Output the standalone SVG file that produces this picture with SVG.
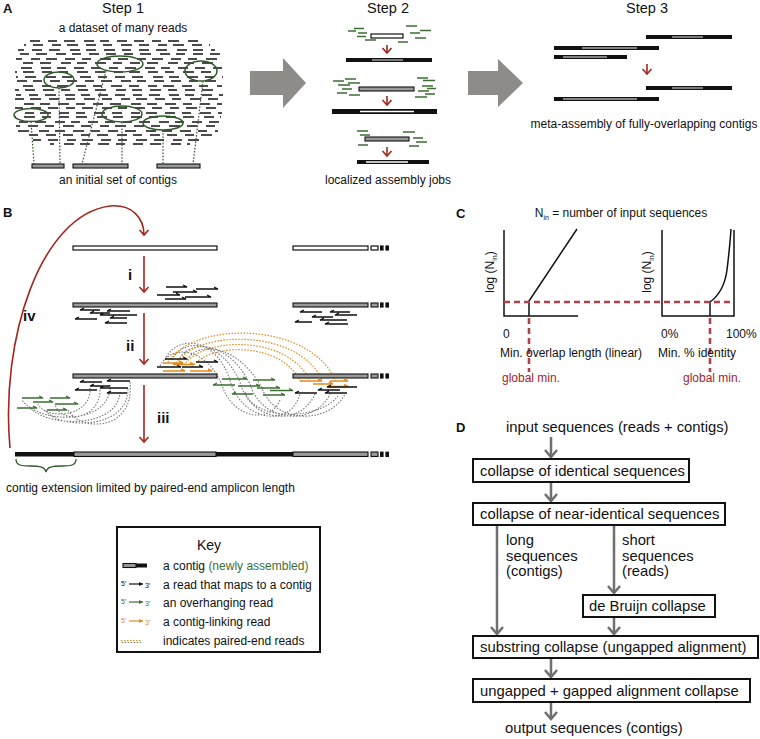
<svg xmlns="http://www.w3.org/2000/svg" width="760" height="739" viewBox="0 0 760 739">
<style>
text{font-family:"Liberation Sans",Arial,sans-serif;fill:#111}
.t12{font-size:12px}
.t15{font-size:14.8px}
.lb{font-size:13px;font-weight:bold}
.rn{font-size:15px;font-weight:bold}
.rd{stroke:#111;stroke-width:1.6;fill:none}
.da{stroke-dasharray:10 8 9 7 11 9 10 6 9 8 10 7}
.db{stroke-dasharray:11 7 10 9 9 6 11 8 10 7 9 9}
.dc{stroke-dasharray:9 8 10 7 11 10 10 6 10 8 11 7}
.ell{fill:none;stroke:#2f5a2a;stroke-width:1.5}
.gdot{stroke:#2f5a2a;stroke-width:1.2;stroke-dasharray:1.6 1.6;fill:none}
.ctg{fill:#999;stroke:#111;stroke-width:1.1}
.wct{fill:#fff;stroke:#111;stroke-width:1.2}
.blk{fill:#111}
.gin{stroke:#aaa;stroke-width:1.4}
.win{stroke:#fff;stroke-width:1.4}
.gr{stroke:#3d6e34;stroke-width:1.6;fill:none}
.red{stroke:#a3261e;stroke-width:1.6;fill:none}
.hb{stroke:#111;stroke-width:1.3;fill:none}
.hg{stroke:#3d6e34;stroke-width:1.3;fill:none}
.ho{stroke:#e08a1e;stroke-width:1.4;fill:none}
.pg{stroke:#777;stroke-width:1.1;stroke-dasharray:1.5 1.5;fill:none}
.po{stroke:#e08a1e;stroke-width:1.2;stroke-dasharray:1.5 1.5;fill:none}
.ax{stroke:#111;stroke-width:1.5;fill:none}
.rdash{stroke:#b0414b;stroke-width:2.6;stroke-dasharray:6 4;fill:none}
.box{fill:#fff;stroke:#111;stroke-width:2}
.ga{stroke:#6f6f6f;stroke-width:2.5;fill:none}
</style>
<defs>
<marker id="rh" markerUnits="userSpaceOnUse" viewBox="-7 -7 14 14" markerWidth="14" markerHeight="14" refX="0" refY="0" orient="auto" overflow="visible">
<path d="M-5,-4.5L0,0L-5,4.5" fill="none" stroke="#a3261e" stroke-width="1.6"/>
</marker>
<marker id="gh" markerUnits="userSpaceOnUse" viewBox="-9 -9 18 18" markerWidth="18" markerHeight="18" refX="0" refY="0" orient="auto" overflow="visible">
<path d="M-7,-6L0,0L-7,6" fill="none" stroke="#6f6f6f" stroke-width="2.5"/>
</marker>
<marker id="kh" markerUnits="userSpaceOnUse" viewBox="-4 -4 8 8" markerWidth="8" markerHeight="8" refX="0" refY="0" orient="auto" overflow="visible">
<path d="M-4,-2L0,0L-4,2Z" fill="context-stroke"/>
</marker>
</defs>
<rect width="760" height="739" fill="#fff"/>

<!-- Panel labels -->
<text class="lb" x="3" y="13">A</text>
<text class="lb" x="3" y="217">B</text>
<text class="lb" x="456" y="218">C</text>
<text class="lb" x="456" y="432">D</text>

<!-- Step 1 -->
<g id="step1">
<text x="123" y="13" font-size="14.5" text-anchor="middle">Step 1</text>
<text class="t12" x="123" y="32" text-anchor="middle">a dataset of many reads</text>
<g class="rd">
<line x1="30" y1="41" x2="200" y2="41" class="da"/>
<line x1="24" y1="45" x2="210" y2="45" class="db" stroke-dashoffset="9"/>
<line x1="18" y1="50" x2="215" y2="50" class="dc" stroke-dashoffset="3"/>
<line x1="15" y1="54" x2="220" y2="54" class="da" stroke-dashoffset="13"/>
<line x1="16" y1="59" x2="222" y2="59" class="db" stroke-dashoffset="22"/>
<line x1="15" y1="63" x2="218" y2="63" class="dc" stroke-dashoffset="9"/>
<line x1="17" y1="68" x2="222" y2="68" class="da" stroke-dashoffset="30"/>
<line x1="15" y1="72" x2="220" y2="72" class="db" stroke-dashoffset="44"/>
<line x1="16" y1="77" x2="223" y2="77" class="dc" stroke-dashoffset="25"/>
<line x1="15" y1="81" x2="219" y2="81" class="da" stroke-dashoffset="52"/>
<line x1="18" y1="86" x2="222" y2="86" class="db" stroke-dashoffset="13"/>
<line x1="15" y1="90" x2="221" y2="90" class="dc" stroke-dashoffset="61"/>
<line x1="16" y1="95" x2="223" y2="95" class="da" stroke-dashoffset="5"/>
<line x1="15" y1="99" x2="220" y2="99" class="db" stroke-dashoffset="37"/>
<line x1="17" y1="104" x2="222" y2="104" class="dc" stroke-dashoffset="48"/>
<line x1="15" y1="108" x2="219" y2="108" class="da" stroke-dashoffset="71"/>
<line x1="16" y1="113" x2="222" y2="113" class="db" stroke-dashoffset="28"/>
<line x1="15" y1="117" x2="221" y2="117" class="dc" stroke-dashoffset="80"/>
<line x1="18" y1="122" x2="220" y2="122" class="da" stroke-dashoffset="17"/>
<line x1="16" y1="126" x2="218" y2="126" class="db" stroke-dashoffset="59"/>
<line x1="18" y1="131" x2="218" y2="131" class="dc" stroke-dashoffset="34"/>
<line x1="25" y1="135" x2="214" y2="135" class="da" stroke-dashoffset="66"/>
<line x1="33" y1="140" x2="205" y2="140" class="db" stroke-dashoffset="3"/>
<line x1="50" y1="144" x2="190" y2="144" class="dc" stroke-dashoffset="41"/>
</g>
<ellipse class="ell" cx="59" cy="80" rx="15" ry="8"/>
<ellipse class="ell" cx="120" cy="64" rx="23" ry="8"/>
<ellipse class="ell" cx="201" cy="71" rx="16" ry="10"/>
<ellipse class="ell" cx="31" cy="115" rx="17" ry="6.5"/>
<ellipse class="ell" cx="122" cy="114" rx="20" ry="8"/>
<ellipse class="ell" cx="163" cy="123" rx="20" ry="7"/>
<path class="gdot" d="M31,121.5L34,164M59,88L60,164M106,71L82,164M122,122L122,164M163,130L163,164M203,81L193,164"/>
<rect class="ctg" x="32" y="164" width="32" height="4"/>
<rect class="ctg" x="73" y="164" width="55" height="4"/>
<rect class="ctg" x="157" y="164" width="43" height="4"/>
<text class="t12" x="118" y="184" text-anchor="middle">an initial set of contigs</text>
</g>

<g id="bigarrows" fill="#8e8c89">
<polygon points="250,71 283,71 283,58 306,83 283,108 283,95 250,95"/>
<polygon points="468,71 498,71 498,59 523,83 498,107 498,95 468,95"/>
</g>

<!-- Step 2 -->
<g id="step2">
<text x="388" y="13" font-size="14.5" text-anchor="middle">Step 2</text>
<path class="gr" d="M348,31h8M354,28.5h10M358,33h9M357,36.5h9M365,40h11M406,26h11M410,33h10M420,30.5h11M415,38h11M398,42h10"/>
<rect class="wct" x="371" y="34" width="32" height="4"/>
<line class="red" x1="387" y1="45" x2="387" y2="53" marker-end="url(#rh)"/>
<rect class="blk" x="346" y="58" width="86" height="4"/>
<line class="gin" x1="372" y1="60" x2="403" y2="60"/>
<path class="gr" d="M333,81h11M345,79h11M338,85h12M348,83h12M342,89h10M337,93h10M349,95h11M417,78h11M423,80.5h12M422,86h11M427,88.5h9M418,91h11M415,97h12M425,94h10"/>
<rect class="ctg" x="359" y="87" width="55" height="4"/>
<line class="red" x1="387" y1="96" x2="387" y2="105" marker-end="url(#rh)"/>
<rect class="blk" x="332" y="109" width="105" height="5"/>
<line class="win" x1="360" y1="111.5" x2="414" y2="111.5"/>
<path class="gr" d="M357,131h11M360,135h10M358,145h10M403,132h12M413,138h10M416,142h11M409,146h10"/>
<rect class="ctg" x="365" y="137" width="44" height="4"/>
<line class="red" x1="387" y1="147" x2="387" y2="156" marker-end="url(#rh)"/>
<rect class="blk" x="357" y="160" width="72" height="4"/>
<line class="win" x1="366" y1="162" x2="408" y2="162"/>
<text class="t12" x="388" y="184" text-anchor="middle">localized assembly jobs</text>
</g>

<!-- Step 3 -->
<g id="step3">
<text x="647" y="13" font-size="14.5" text-anchor="middle">Step 3</text>
<rect class="blk" x="646" y="35" width="86" height="4"/><line class="gin" x1="672" y1="37" x2="703" y2="37"/>
<rect class="blk" x="554" y="46" width="105" height="4"/><line class="gin" x1="582" y1="48" x2="637" y2="48"/>
<rect class="blk" x="554" y="55" width="73" height="4"/><line class="gin" x1="563" y1="57" x2="607" y2="57"/>
<line class="red" x1="647" y1="64" x2="647" y2="74" marker-end="url(#rh)"/>
<rect class="blk" x="646" y="86" width="86" height="4"/><line class="gin" x1="672" y1="88" x2="703" y2="88"/>
<rect class="blk" x="554" y="97" width="105" height="4"/><line class="gin" x1="563" y1="99" x2="637" y2="99"/>
<text class="t12" x="644" y="128" text-anchor="middle">meta-assembly of fully-overlapping contigs</text>
</g>

<!-- Panel B -->
<g id="connectorsB">
<path class="red" d="M10,448C0,340 40,215 110,206C132,204 144,218 144,235" marker-end="url(#rh)"/>
<line class="red" x1="144" y1="256" x2="144" y2="292" marker-end="url(#rh)"/>
<line class="red" x1="144" y1="313" x2="144" y2="364" marker-end="url(#rh)"/>
<line class="red" x1="144" y1="385" x2="144" y2="442" marker-end="url(#rh)"/>
<path class="pg" d="M128,389C128,430 60,430 45,410M120,392C118,428 50,428 30,408M110,385C112,425 40,425 22,400M100,390C100,420 60,425 55,404M130,382C135,432 80,432 68,410M90,388C92,418 45,420 38,404"/>
<path class="pg" d="M165,360C175,335 215,335 230,380C240,420 290,430 300,394M172,360C182,338 220,338 240,382C250,422 300,428 315,394M180,358C190,340 228,340 250,384C262,424 315,426 330,394M187,360C197,342 236,342 262,388C275,425 330,424 345,394M160,366C170,345 205,345 222,385C232,418 270,425 280,400M245,392C255,422 320,420 338,396"/>
<path class="po" d="M168,362C195,320 310,322 335,380M176,363C200,328 300,330 322,380M184,365C205,335 290,336 310,381M192,367C210,342 282,342 300,381"/>
</g>
<g id="panelB">
<text class="rn" x="128" y="280">i</text>
<text class="rn" x="23" y="321">iv</text>
<text class="rn" x="126" y="351">ii</text>
<text class="rn" x="157" y="423">iii</text>
<g id="row1">
<rect class="wct" x="73" y="246" width="144" height="4"/>
<rect class="wct" x="293" y="246" width="75" height="4"/>
<rect class="wct" x="371" y="246" width="7" height="4"/>
<rect class="blk" x="380" y="245.4" width="3.6" height="5.2"/>
<rect class="blk" x="385.4" y="245.4" width="3.6" height="5.2"/>
</g>
<g id="row2">
<rect class="ctg" x="73" y="303" width="144" height="4"/>
<rect class="ctg" x="293" y="303" width="75" height="4"/>
<rect class="ctg" x="371" y="303" width="7" height="4"/>
<rect class="blk" x="380" y="302.4" width="3.6" height="5.2"/>
<rect class="blk" x="385.4" y="302.4" width="3.6" height="5.2"/>
<path class="hb" d="M166,287H187l-4,-2M196,289H218l-4,-2M173,292H197l-4,-2M157,295H180l-4,-2M185,297H211l-4,-2M165,299H186l-4,-2"/>
<path class="hb" d="M100,310H80l4,-2M110,313H90l4,-2M130,311H107l4,-2M137,315H100l4,-2M97,319H75l4,-2M127,318H110l4,-2M127,323H105l4,-2"/>
<path class="hb" d="M322,312H300l4,-2M350,312H330l4,-2M333,317H312l4,-2M357,315H335l4,-2M347,320H320l4,-2M312,322H295l4,-2M348,324H325l4,-2"/>
</g>
<g id="row3">
<rect class="ctg" x="73" y="374" width="144" height="4"/>
<rect class="ctg" x="293" y="374" width="75" height="4"/>
<rect class="ctg" x="371" y="374" width="7" height="4"/>
<rect class="blk" x="380" y="373.4" width="3.6" height="5.2"/>
<rect class="blk" x="385.4" y="373.4" width="3.6" height="5.2"/>
<path class="hb" d="M165,359H187l-4,-2M196,362H218l-4,-2M157,367H181l-4,-2M182,367H203l-4,-2"/>
<path class="ho" d="M163,363H183l-4,-2M173,364.5H194l-4,-2M163,371H185l-4,-2M190,371H212l-4,-2"/>
<path class="hg" d="M222,379H247l-4,-2M253,380H275l-4,-2M235,385H213l4,-2M238,386H260l-4,-2M257,388H280l-4,-2M270,390.5H293l-4,-2M253,394H232l4,-2M263,395H285l-4,-2"/>
<path class="ho" d="M300,381H322l-4,-2M313,384H333l-4,-2M330,381H348l-4,-2M328,386.5H348l-4,-2"/>
<path class="hb" d="M317,393H295l4,-2M347,393H325l4,-2M357,387H327l4,-2M340,390H318l4,-2"/>
<path class="hb" d="M102,382H80l4,-2M130,381H107l4,-2M97,390H75l4,-2M110,386H90l4,-2M128,388H100l4,-2M127,393H107l4,-2"/>
<path class="hg" d="M22,398H43l-4,-2M50,398H70l-4,-2M33,402H53l-4,-2M55,404H78l-4,-2M17,408H37l-4,-2M47,410H67l-4,-2"/>
</g>
<g id="row4">
<rect class="blk" x="15" y="452" width="59" height="4.5"/>
<rect class="ctg" x="74" y="452" width="142" height="4.5"/>
<rect class="blk" x="216" y="452" width="77" height="4.5"/>
<rect class="ctg" x="293" y="452" width="75" height="4.5"/>
<rect class="ctg" x="371" y="452" width="7" height="4.5"/>
<rect class="blk" x="380" y="451.6" width="3.6" height="5.4"/>
<rect class="blk" x="385.4" y="451.6" width="3.6" height="5.4"/>
<path d="M16,459C16,465 20,466 30,466C40,466 45,467 46,472C47,467 52,466 62,466C72,466 76,465 76,459" fill="none" stroke="#2f5a2a" stroke-width="1.3"/>
<text class="t12" x="6" y="492">contig extension limited by paired-end amplicon length</text>
</g>
</g>

<!-- Key -->
<g id="key">
<rect x="117" y="527" width="203" height="125" fill="#fff" stroke="#111" stroke-width="2"/>
<text x="209" y="550" font-size="14" text-anchor="middle">Key</text>
<rect class="ctg" x="123" y="563.5" width="13" height="4"/>
<rect class="blk" x="136" y="563.5" width="11" height="4"/>
<text class="t12" x="163" y="570">a contig <tspan style="fill:#3d6e34">(newly assembled)</tspan></text>
<text x="121" y="586" font-size="7">5′</text>
<line x1="129" y1="584" x2="143" y2="584" stroke="#111" stroke-width="1.2" marker-end="url(#kh)"/>
<text x="145" y="588" font-size="7">3′</text>
<text class="t12" x="163" y="589">a read that maps to a contig</text>
<text x="121" y="604" font-size="7" style="fill:#3d6e34">5′</text>
<line x1="129" y1="602" x2="143" y2="602" stroke="#3d6e34" stroke-width="1.2" marker-end="url(#kh)"/>
<text x="145" y="606" font-size="7" style="fill:#3d6e34">3′</text>
<text class="t12" x="163" y="607">an overhanging read</text>
<text x="121" y="623" font-size="7" style="fill:#e08a1e">5′</text>
<line x1="129" y1="621" x2="143" y2="621" stroke="#e08a1e" stroke-width="1.2" marker-end="url(#kh)"/>
<text x="145" y="625" font-size="7" style="fill:#e08a1e">3′</text>
<text class="t12" x="163" y="626">a contig-linking read</text>
<line x1="121" y1="640.5" x2="142" y2="640.5" class="po"/>
<line x1="121.7" y1="642.5" x2="142" y2="642.5" class="pg"/>
<text class="t12" x="163" y="645">indicates paired-end reads</text>
</g>

<!-- Panel C -->
<g id="panelC">
<text class="t12" x="621" y="217" text-anchor="middle">N<tspan font-size="7" dy="3">in</tspan><tspan dy="-3"> = number of input sequences</tspan></text>
<path class="ax" d="M504,230V316H578"/>
<path class="ax" d="M529,316V301L577,229"/>
<path class="ax" d="M662,230V316H734V230"/>
<path class="ax" d="M710,316V302Q724,292 727,270Q730,245 731,229"/>
<line class="rdash" x1="504" y1="302" x2="734" y2="302"/>
<line class="rdash" x1="529" y1="318" x2="529" y2="372"/>
<line class="rdash" x1="710" y1="318" x2="710" y2="372"/>
<text class="t12" transform="translate(494,272) rotate(-90)" text-anchor="middle">log (N<tspan font-size="7" dy="3">in</tspan><tspan dy="-3">)</tspan></text>
<text class="t12" transform="translate(651,272) rotate(-90)" text-anchor="middle">log (N<tspan font-size="7" dy="3">in</tspan><tspan dy="-3">)</tspan></text>
<text class="t12" x="503" y="338">0</text>
<text class="t12" x="661" y="338">0%</text>
<text class="t12" x="726" y="338">100%</text>
<text class="t12" x="500" y="357">Min. overlap length (linear)</text>
<text class="t12" x="658" y="357">Min. % identity</text>
<text class="t12" x="502" y="382" style="fill:#a31d2a">global min.</text>
<text class="t12" x="683" y="382" style="fill:#a31d2a">global min.</text>
</g>

<!-- Panel D -->
<g id="connectorsD">
<line class="ga" x1="551" y1="437" x2="551" y2="457" marker-end="url(#gh)"/>
<line class="ga" x1="551" y1="482" x2="551" y2="501" marker-end="url(#gh)"/>
<line class="ga" x1="497" y1="526" x2="497" y2="634" marker-end="url(#gh)"/>
<line class="ga" x1="614" y1="526" x2="614" y2="593" marker-end="url(#gh)"/>
<line class="ga" x1="614" y1="618" x2="614" y2="634" marker-end="url(#gh)"/>
<line class="ga" x1="551" y1="659" x2="551" y2="677" marker-end="url(#gh)"/>
<line class="ga" x1="551" y1="703" x2="551" y2="719" marker-end="url(#gh)"/>
</g>
<g id="d-input"><text class="t15" x="506" y="432">input sequences (reads + contigs)</text></g>
<g id="d-identical"><rect class="box" x="473" y="459" width="216" height="23"/><text class="t15" x="480" y="476">collapse of identical sequences</text></g>
<g id="d-near"><rect class="box" x="473" y="503" width="252" height="22"/><text class="t15" x="480" y="519">collapse of near-identical sequences</text></g>
<g id="d-long"><text class="t15" x="506" y="545">long</text><text class="t15" x="506" y="560.5">sequences</text><text class="t15" x="506" y="576">(contigs)</text></g>
<g id="d-short"><text class="t15" x="622" y="545">short</text><text class="t15" x="622" y="560.5">sequences</text><text class="t15" x="622" y="576">(reads)</text></g>
<g id="d-debruijn"><rect class="box" x="583" y="595" width="132" height="22"/><text class="t15" x="589" y="611">de Bruijn collapse</text></g>
<g id="d-substring"><rect class="box" x="473" y="636" width="285" height="22"/><text class="t15" x="480" y="652">substring collapse (ungapped alignment)</text></g>
<g id="d-gapped"><rect class="box" x="473" y="679" width="277" height="23"/><text class="t15" x="480" y="696">ungapped + gapped alignment collapse</text></g>
<g id="d-output"><text class="t15" x="505" y="733">output sequences (contigs)</text></g>
</svg>
